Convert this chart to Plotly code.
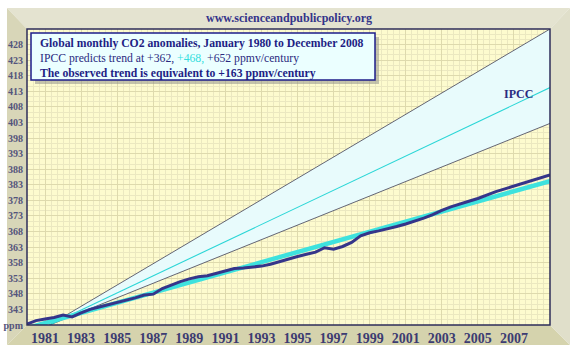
import plotly.graph_objects as go

# ---- data ----
obs_years = [1980.0 + 0.5 * i for i in range(59)]
obs_vals = [338.3, 339.4, 339.9, 340.4, 341.2, 340.6, 341.9, 343.0, 343.8, 344.5,
            345.3, 345.9, 346.7, 347.6, 347.9, 349.7, 350.9, 351.9, 352.8, 353.5,
            353.8, 354.5, 355.3, 356.1, 356.3, 356.6, 356.9, 357.5, 358.4, 359.3,
            360.0, 360.7, 361.4, 362.8, 362.3, 363.2, 364.5, 366.6, 367.6, 368.2,
            368.8, 369.6, 370.4, 371.3, 372.3, 373.4, 374.8, 375.9, 376.9, 377.7,
            378.6, 379.8, 380.8, 381.7, 382.6, 383.6, 384.5, 385.4, 386.2]

trend_years = [1980.0, 2009.0]
trend_vals = [337.0, 384.2]

ipcc_years = [1981.25, 2009.0]
ipcc_high = [338.0, 433.0]
ipcc_mid = [338.0, 414.2]
ipcc_low = [338.0, 402.7]

x_tick_years = list(range(1981, 2008, 2))
y_tick_vals = list(range(338, 429, 5))
y_tick_text = ["ppm"] + [str(v) for v in y_tick_vals[1:]]

# ---- layout geometry (pixels) ----
W, H = 577, 353
PL, PR, PT, PB = 27, 550, 29, 325


def px(x):
    return (x - PL) / (PR - PL)


def py(y):
    return (PB - y) / (PB - PT)


SERIF = "Liberation Serif"
NAVY = "#1e1e84"

fig = go.Figure()

# IPCC band
fig.add_trace(go.Scatter(x=ipcc_years, y=ipcc_low, mode="lines",
                         line=dict(color="#404058", width=0.8), showlegend=False, hoverinfo="skip"))
fig.add_trace(go.Scatter(x=ipcc_years, y=ipcc_high, mode="lines", fill="tonexty",
                         fillcolor="#e8fbfc",
                         line=dict(color="#404058", width=0.8), showlegend=False, hoverinfo="skip"))
fig.add_trace(go.Scatter(x=ipcc_years, y=ipcc_mid, mode="lines",
                         line=dict(color="#2ad6d6", width=1.1), showlegend=False, hoverinfo="skip"))
# observed trend
fig.add_trace(go.Scatter(x=trend_years, y=trend_vals, mode="lines",
                         line=dict(color="#3ee2de", width=4.5), showlegend=False, hoverinfo="skip"))
# observed data
fig.add_trace(go.Scatter(x=obs_years, y=obs_vals, mode="lines",
                         line=dict(color="#35358a", width=3), showlegend=False, hoverinfo="skip"))

shapes = []


def poly(pts, color):
    d = "M " + " L ".join(f"{px(a):.5f},{py(b):.5f}" for a, b in pts) + " Z"
    return dict(type="path", xref="paper", yref="paper", path=d,
                fillcolor=color, line=dict(width=0), layer="below")


# bevelled frame
shapes.append(poly([(7, 8), (570, 8), (PR, PT), (PL, PT)], "#e4e3d0"))
shapes.append(poly([(7, 8), (PL, PT), (PL, PB), (7, 345)], "#d8d6b8"))
shapes.append(poly([(7, 345), (PL, PB), (PR, PB), (570, 345)], "#d5d3ad"))
shapes.append(poly([(570, 8), (570, 345), (PR, PB), (PR, PT)], "#e0dfca"))

# plot border
shapes.append(dict(type="rect", xref="paper", yref="paper", x0=0, x1=1, y0=0, y1=1,
                   line=dict(color="#2e2e5a", width=1.5), layer="above"))
# text box shadow and box
shapes.append(dict(type="rect", xref="paper", yref="paper",
                   x0=px(35), x1=px(379), y0=py(84), y1=py(37),
                   fillcolor="rgba(150,150,140,0.55)", line=dict(width=0), layer="above"))
shapes.append(dict(type="rect", xref="paper", yref="paper",
                   x0=px(31), x1=px(375), y0=py(80), y1=py(33),
                   fillcolor="#ebffff", line=dict(color="#1e1e8a", width=1.5), layer="above"))

annotations = [
    dict(text="<b>www.scienceandpublicpolicy.org</b>", xref="paper", yref="paper",
         x=px(289), y=py(18), xanchor="center", yanchor="middle", showarrow=False,
         font=dict(family=SERIF, size=12, color="#34348a")),
    dict(text="<b>Global monthly CO2 anomalies, January 1980 to December 2008</b>",
         xref="paper", yref="paper", x=px(38), y=py(44), xanchor="left", yanchor="middle",
         showarrow=False, font=dict(family=SERIF, size=11.7, color=NAVY)),
    dict(text="IPCC predicts trend at +362, <span style='color:#33dede'>+468,</span> +652 ppmv/century",
         xref="paper", yref="paper", x=px(38), y=py(58.5), xanchor="left", yanchor="middle",
         showarrow=False, font=dict(family=SERIF, size=11.7, color="#2a2a80")),
    dict(text="<b>The observed trend is equivalent to +163 ppmv/century</b>",
         xref="paper", yref="paper", x=px(38), y=py(73), xanchor="left", yanchor="middle",
         showarrow=False, font=dict(family=SERIF, size=11.7, color=NAVY)),
    dict(text="<b>IPCC</b>", xref="paper", yref="paper", x=px(518), y=py(94),
         xanchor="center", yanchor="middle", showarrow=False,
         font=dict(family=SERIF, size=12, color="#2a2a80")),
]

fig.update_layout(
    width=W, height=H,
    margin=dict(l=PL, r=W - PR, t=PT, b=H - PB),
    paper_bgcolor="white",
    plot_bgcolor="#fdfbce",
    shapes=shapes,
    annotations=annotations,
    showlegend=False,
    xaxis=dict(range=[1980, 2009], tickmode="array", tickvals=x_tick_years,
               ticktext=[f"<b>{y}</b>" for y in x_tick_years],
               tickfont=dict(family=SERIF, size=14, color="#3c3c72"),
               showgrid=True, gridcolor="#dedaad", gridwidth=1, zeroline=False,
               showline=False, ticks="", ticklabelstandoff=3, automargin=False,
               minor=dict(tickmode="linear", tick0=1980, dtick=1 / 3,
                          showgrid=True, gridcolor="#ebe8c0", gridwidth=1)),
    yaxis=dict(range=[338, 433], tickmode="array", tickvals=y_tick_vals,
               ticktext=[f"<b>{t}</b>" for t in y_tick_text],
               tickfont=dict(family=SERIF, size=10, color="#54547c"),
               showgrid=True, gridcolor="#dedaad", gridwidth=1, zeroline=False,
               showline=False, ticks="", ticklabelstandoff=3, automargin=False,
               minor=dict(tickmode="linear", tick0=338, dtick=5 / 3,
                          showgrid=True, gridcolor="#ebe8c0", gridwidth=1)),
)

fig.write_html("out.html")
